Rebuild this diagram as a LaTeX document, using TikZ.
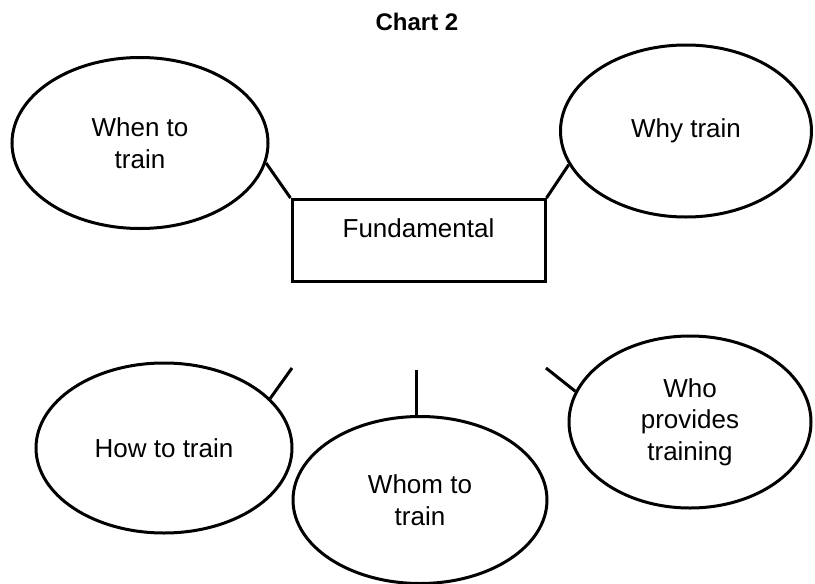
\documentclass[tikz,border=0pt]{standalone}
\usepackage{fontspec}
\setmainfont{Liberation Sans}
\usetikzlibrary{shapes.geometric}

\begin{document}
\begin{tikzpicture}[x=1pt, y=-1pt, line width=3pt,
      every node/.style = {align=center, inner sep=0pt,
        font=\fontsize{26}{31.5}\selectfont},
      bubble/.style = {shape=ellipse, draw},
      box/.style = {shape=rectangle, draw}]
  \useasboundingbox (0,0) rectangle (815,584);
  \node[font=\fontsize{24}{28}\selectfont\bfseries] (title) at (417,22) {Chart 2};

  % top row
  \node[bubble, minimum width=256pt, minimum height=171pt] (when) at (140,143) {When to\\train};
  \node[bubble, minimum width=251pt, minimum height=172pt] (why) at (686,131) {Why train};
  \node[box, anchor=north, minimum width=253pt, text height=19pt, text depth=26pt,
        inner ysep=18.5pt] (fund) at (418.5,198) {Fundamental};
  \draw (fund.north west) -- (when.-9);
  \draw (fund.north east) -- (why.196);

  % bottom row
  \node[bubble, minimum width=256pt, minimum height=170pt] (how) at (164,448) {How to train};
  \node[bubble, minimum width=254pt, minimum height=167pt] (whom) at (420,500) {Whom to\\train};
  \node[bubble, minimum width=242pt, minimum height=172pt] (who) at (690,422) {Who\\provides\\training};
  \coordinate (howend) at (292,368);
  \coordinate (whomend) at (416,370);
  \coordinate (whoend) at (546,368);
  \draw (howend) -- (how.25);
  \draw (whomend) -- (whomend |- whom.north);
  \draw (whoend) -- (who.165);
\end{tikzpicture}
\end{document}
